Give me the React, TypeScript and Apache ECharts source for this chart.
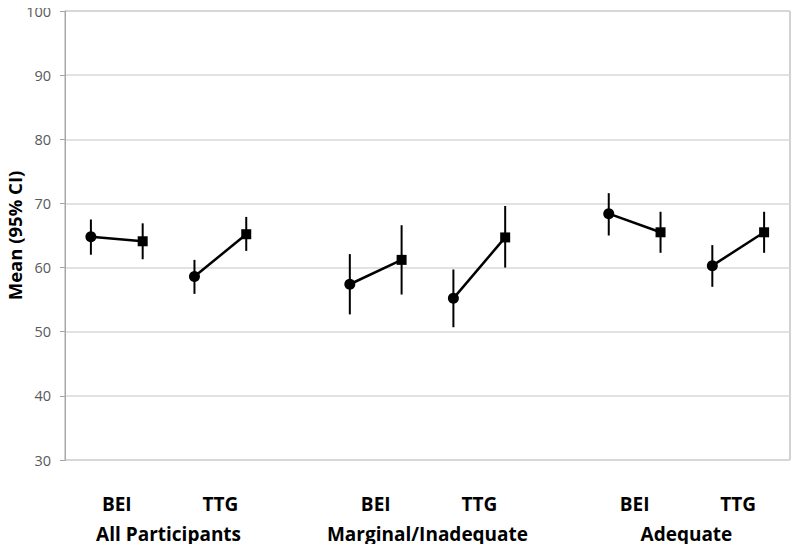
import React, { useEffect, useRef } from "react";
import * as echarts from "echarts";

const groups = ["All Participants", "Marginal/Inadequate", "Adequate"];
const measures = ["BEI", "TTG"];
// order: All-BEI, All-TTG, Marg-BEI, Marg-TTG, Adeq-BEI, Adeq-TTG
const circleMean = [64.8, 58.6, 57.4, 55.2, 68.4, 60.3];
const circleLow = [62.0, 55.9, 52.7, 50.7, 65.0, 57.0];
const circleHigh = [67.5, 61.2, 62.1, 59.7, 71.6, 63.5];
const squareMean = [64.1, 65.2, 61.2, 64.7, 65.5, 65.5];
const squareLow = [61.3, 62.6, 55.8, 60.0, 62.3, 62.3];
const squareHigh = [66.9, 67.9, 66.6, 69.6, 68.7, 68.7];
const yTicks = { min: 30, max: 100, interval: 10 };

const SLOTS = 14;
const FONT = "'Open Sans', 'Liberation Sans', sans-serif";

export default function App() {
  const ref = useRef<HTMLDivElement>(null);
  useEffect(() => {
    if (!ref.current) return;
    const chart = echarts.init(ref.current, undefined, { renderer: "svg" });

    const pairX = (k: number) => {
      const g = Math.floor(k / 2);
      const m = k % 2;
      return g * 5 + m * 2; // slot index of circle
    };

    const measureLabelAt: Record<number, string> = {};
    const groupLabelAt: Record<number, string> = {};
    groups.forEach((g, gi) => {
      groupLabelAt[gi * 5 + 2] = g;
      measures.forEach((m, mi) => {
        measureLabelAt[gi * 5 + mi * 2 + 1] = m;
      });
    });

    const lineSeries: any[] = circleMean.map((c, k) => {
      const x0 = pairX(k) + 0.5;
      return {
        type: "line",
        xAxisIndex: 0,
        yAxisIndex: 0,
        z: 3,
        lineStyle: { color: "#000", width: 2.5 },
        itemStyle: { color: "#000" },
        data: [
          { value: [x0, c], symbol: "circle", symbolSize: 11 },
          { value: [x0 + 1, squareMean[k]], symbol: "rect", symbolSize: 10 },
        ],
      };
    });

    const errData: number[][] = [];
    circleMean.forEach((_, k) => {
      const x0 = pairX(k) + 0.5;
      errData.push([x0, circleLow[k], circleHigh[k]]);
      errData.push([x0 + 1, squareLow[k], squareHigh[k]]);
    });

    const errSeries = {
      type: "custom",
      xAxisIndex: 0,
      yAxisIndex: 0,
      z: 2,
      data: errData,
      encode: { x: 0, y: [1, 2] },
      renderItem: (_p: any, api: any) => {
        const a = api.coord([api.value(0), api.value(1)]);
        const b = api.coord([api.value(0), api.value(2)]);
        return {
          type: "line",
          shape: { x1: a[0], y1: a[1], x2: b[0], y2: b[1] },
          style: { stroke: "#000", lineWidth: 2 },
        };
      },
    };

    const hiddenX = {
      type: "value",
      min: 0,
      max: SLOTS,
      interval: 1,
      position: "bottom",
      offset: 0,
      axisLine: { show: false },
      axisTick: { show: false },
      splitLine: { show: false },
    };

    chart.setOption({
      animation: false,
      textStyle: { fontFamily: FONT },
      grid: {
        left: 65,
        right: 10,
        top: 11,
        bottom: 92,
        containLabel: false,
        outerBoundsMode: "none",
        show: true,
        borderColor: "#a6a6a6",
        borderWidth: 1,
      },
      xAxis: [
        { ...hiddenX, axisLabel: { show: false } },
        {
          ...hiddenX,
          axisLabel: {
            show: true,
            margin: 34,
            fontFamily: FONT,
            fontSize: 19,
            fontWeight: "bold",
            color: "#000",
            showMinLabel: true,
            showMaxLabel: true,
            formatter: (v: number) => measureLabelAt[Math.round(v)] ?? "",
          },
        },
        {
          ...hiddenX,
          axisLabel: {
            show: true,
            margin: 64,
            fontFamily: FONT,
            fontSize: 19,
            fontWeight: "bold",
            color: "#000",
            showMinLabel: true,
            showMaxLabel: true,
            formatter: (v: number) => groupLabelAt[Math.round(v)] ?? "",
          },
        },
      ],
      yAxis: {
        type: "value",
        min: yTicks.min,
        max: yTicks.max,
        interval: yTicks.interval,
        name: "Mean (95% CI)",
        nameLocation: "middle",
        nameGap: 41,
        nameMoveOverlap: false,
        nameTextStyle: {
          fontFamily: FONT,
          fontSize: 18.5,
          fontWeight: "bold",
          color: "#000",
        },
        axisLine: { show: true, lineStyle: { color: "#a6a6a6", width: 1 } },
        axisTick: { show: true, length: 5, lineStyle: { color: "#a6a6a6" } },
        axisLabel: {
          fontFamily: FONT,
          fontSize: 14.5,
          color: "#595959",
          margin: 14,
        },
        splitLine: { lineStyle: { color: "#d9d9d9", width: 1.5 } },
      },
      series: [errSeries, ...lineSeries],
    });

    return () => chart.dispose();
  }, []);

  return <div ref={ref} style={{ width: 800, height: 552, margin: -8 }} />;
}
